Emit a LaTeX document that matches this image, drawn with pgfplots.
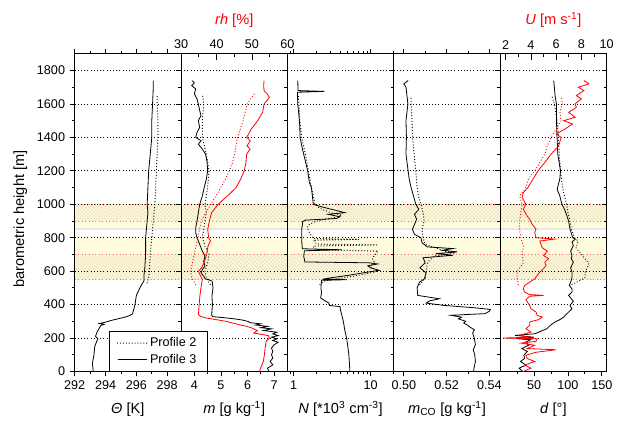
\documentclass[border=0pt]{standalone}
\usepackage{fontspec}
\setmainfont{Liberation Sans}
\usepackage{pgfplots}
\pgfplotsset{compat=1.18}
\usetikzlibrary{patterns}

\definecolor{bandyel}{RGB}{255,251,222}
\definecolor{bandgray}{RGB}{232,232,222}
\definecolor{hatchc}{RGB}{236,228,196}
\definecolor{bandred}{RGB}{255,110,110}

\newcommand{\tickfont}{\fontsize{9.5}{11}\selectfont}
\newcommand{\labfont}{\fontsize{11}{13}\selectfont}

\pgfplotsset{
  panel/.style={
    set layers,
    scale only axis,
    width=80.1pt, height=239.25pt,
    anchor=south west,
    ymin=0, ymax=1900,
    ytick={0,200,...,1800},
    minor ytick={100,300,...,1700},
    ymajorgrids,
    grid style={black, dotted, line width=0.5pt},
    tick align=outside,
    ytick pos=left,
    major tick length=3.75pt, minor tick length=2.25pt,
    tick style={black, line width=0.6pt},
    axis line style={line width=0.8pt},
    tick label style={font=\tickfont},
    label style={font=\labfont},
    xlabel style={at={(axis description cs:0.5,-0.132)}, anchor=base},
    /pgf/number format/assume math mode=true,
    /pgf/number format/1000 sep={},
  },
  toppanel/.style={
    scale only axis,
    width=80.1pt, height=239.25pt,
    anchor=south west,
    ymin=0, ymax=1900,
    axis x line*=top, axis y line=none,
    tick align=inside,
    major tick length=5pt, minor tick length=2.6pt,
    tick style={black, line width=0.6pt},
    axis line style={line width=0.8pt},
    tick label style={font=\tickfont},
    label style={font=\labfont, text=red},
    xlabel style={at={(axis description cs:0.5,1.091)}, anchor=base},
    /pgf/number format/assume math mode=true,
  },
  p3/.style={black, line width=0.6pt},
  p2/.style={black, line width=0.95pt, line cap=round, dash pattern=on 0pt off 2.2pt},
}

% shaded layers behind the profiles, x limits of the panel as arguments
\newcommand{\bands}[2]{%
  \addplot[draw=none, fill=bandyel, on layer=axis background, forget plot] coordinates {(#1,550) (#2,550) (#2,800) (#1,800)};
  \addplot[draw=none, fill=bandyel, on layer=axis background, forget plot] coordinates {(#1,860) (#2,860) (#2,1000) (#1,1000)};
  \addplot[draw=none, fill=bandgray, on layer=axis background, forget plot] coordinates {(#1,845) (#2,845) (#2,860) (#1,860)};
  \addplot[draw=none, pattern=north east lines, pattern color=hatchc, on layer=axis background, forget plot] coordinates {(#1,550) (#2,550) (#2,700) (#1,700)};
  \addplot[draw=none, pattern=north west lines, pattern color=hatchc, on layer=axis background, forget plot] coordinates {(#1,550) (#2,550) (#2,700) (#1,700)};
  \addplot[draw=none, pattern=north east lines, pattern color=hatchc, on layer=axis background, forget plot] coordinates {(#1,900) (#2,900) (#2,1000) (#1,1000)};
  \addplot[draw=none, pattern=north west lines, pattern color=hatchc, on layer=axis background, forget plot] coordinates {(#1,900) (#2,900) (#2,1000) (#1,1000)};
  \addplot[bandred, dotted, line width=0.6pt, on layer=axis background, forget plot] coordinates {(#1,550) (#2,550)};
  \addplot[bandred, dotted, line width=0.6pt, on layer=axis background, forget plot] coordinates {(#1,700) (#2,700)};
  \addplot[bandred, dotted, line width=0.6pt, on layer=axis background, forget plot] coordinates {(#1,900) (#2,900)};
  \addplot[bandred, dotted, line width=0.6pt, on layer=axis background, forget plot] coordinates {(#1,1000) (#2,1000)};
}

\begin{document}
\begin{tikzpicture}

% ---- panel 2: m (bottom) and rh (top)
\begin{axis}[panel, at={(136.35pt,35.25pt)},
    xmin=3.5, xmax=7.5, xtick pos=bottom,
    xtick={4,5,6,7}, minor xtick={4.5,5.5,6.5},
    yticklabels={},
    xlabel={\textit{m} [g kg\textsuperscript{-1}]}]
\bands{3.5}{7.5}
\addplot[p2] coordinates {(4.6,520) (4.45,560) (4.4,600) (4.5,650) (4.55,700) (4.4,750) (4.3,800) (4.35,850) (4.4,900) (4.45,950) (4.4,1000) (4.5,1100) (4.55,1200) (4.45,1300) (4.3,1400) (4.3,1500) (4.35,1600) (4.3,1660)};
\addplot[p3] coordinates {(6.8,0) (6.75,20) (6.95,40) (6.85,60) (6.95,80) (6.9,100) (6.95,120) (6.9,140) (7.0,160) (7.15,175) (6.95,185) (7.1,195) (6.9,205) (7.15,215) (6.95,225) (7.1,235) (6.6,245) (6.9,255) (6.5,262) (6.75,270) (6.3,278) (6.5,285) (6.1,292) (6.0,300) (5.8,308) (5.5,315) (5.1,322) (4.7,328) (4.65,335) (4.68,400) (4.66,450) (4.7,500) (4.67,540) (4.55,548) (4.4,555) (4.35,570) (4.25,590) (4.3,610) (4.4,630) (4.35,660) (4.4,690) (4.3,720) (4.2,760) (4.1,800) (4.05,830) (4.05,860) (4.1,900) (4.15,950) (4.2,1000) (4.3,1050) (4.37,1100) (4.45,1150) (4.5,1200) (4.48,1250) (4.42,1300) (4.3,1330) (4.15,1360) (4.25,1380) (4.05,1400) (4.1,1430) (4.2,1460) (4.15,1500) (4.25,1530) (4.2,1560) (4.15,1600) (4.1,1630) (4.0,1660) (4.05,1690) (3.9,1710) (4.0,1725) (3.92,1740)};
\end{axis}
\begin{axis}[toppanel, at={(136.35pt,35.25pt)},
    xmin=30, xmax=60, xtick={30,40,50,60}, minor xtick={35,45,55},
    xlabel={\textit{rh} [\%]}]
\addplot[p2, red] coordinates {(34.1,520) (33.0,560) (32.7,600) (33.2,650) (33.7,700) (34.2,750) (34.8,800) (35.2,850) (35.7,900) (37.0,950) (38.4,1000) (39.8,1050) (41.2,1100) (42.5,1150) (43.6,1200) (44.5,1250) (45.1,1300) (45.5,1350) (45.9,1400) (46.7,1450) (47.5,1500) (48.1,1550) (48.7,1600) (50.0,1640) (50.9,1670)};
\addplot[p3, red] coordinates {(52.1,0) (52.6,30) (53.2,60) (53.5,100) (53.7,140) (54.0,180) (54.9,200) (54.6,215) (50.5,230) (51.5,245) (50.0,260) (48.5,270) (46.4,280) (44.5,290) (42.7,300) (40,310) (37,320) (35.5,330) (34.9,340) (35.1,400) (35.3,450) (35.6,500) (36.0,550) (35.3,580) (34.9,600) (35.8,620) (36.5,650) (37.2,700) (37.6,750) (38.3,780) (37.8,800) (37.5,850) (38.0,900) (38.6,950) (40.5,1000) (42.0,1030) (43.6,1060) (45.5,1100) (46.8,1150) (47.8,1200) (48.3,1250) (48.5,1300) (49.5,1330) (48.6,1350) (49.5,1380) (48.5,1400) (49.3,1430) (49.8,1450) (51.6,1500) (53.0,1550) (53.4,1600) (54.2,1620) (54.9,1640) (54.3,1660) (53.4,1680) (53.3,1710) (53.4,1740)};
\end{axis}

% ---- panel 3: N (log)
\begin{axis}[panel, at={(216.45pt,35.25pt)},
    xmode=log, xmin=0.83, xmax=20, xtick pos=both,
    xtick={1,10}, xticklabels={1,10},
    minor xtick={0.9,2,3,4,5,6,7,8,9,20},
    yticklabels={},
    xlabel={\textit{N} [*10\textsuperscript{3} cm\textsuperscript{-3}]}]
\bands{0.83}{20}
\addplot[p2] coordinates {(2.2,520) (2.5,540) (3.5,555) (6,570) (9,585) (12.3,600) (11,615) (9.5,630) (11.5,650) (10.5,670) (11,690) (12.5,720) (1.9,728) (1.8,750) (12,757) (2.0,762) (1.8,785) (7.0,790) (1.8,795) (1.6,830) (1.5,860) (1.6,880) (2.0,900) (3.4,920) (4.2,935) (3.0,950) (2.2,975) (1.9,1000) (1.7,1100) (1.55,1200) (1.42,1300) (1.27,1400) (1.2,1500) (1.17,1600) (1.15,1650)};
\addplot[p3] coordinates {(5.37,0) (5.3,50) (5.21,100) (5.05,150) (4.87,200) (4.6,250) (4.42,300) (4.2,340) (4.05,370) (4.0,388) (2.9,395) (2.86,410) (2.5,425) (2.24,440) (2.3,470) (2.26,500) (2.3,545) (4.9,549) (2.4,552) (3.0,560) (5.1,575) (8.0,590) (12.9,605) (10,620) (9.2,632) (12.3,643) (9.5,650) (1.4,655) (1.35,690) (1.38,722) (4.2,728) (1.3,734) (1.28,760) (1.27,800) (1.27,850) (1.3,880) (1.3,895) (1.4,905) (3.6,915) (4.0,925) (2.8,940) (4.6,950) (3.1,970) (2.3,985) (1.8,1000) (1.75,1050) (1.7,1100) (1.6,1130) (1.52,1200) (1.4,1270) (1.3,1330) (1.21,1400) (1.2,1470) (1.17,1530) (1.13,1600) (1.12,1670) (2.5,1675) (1.14,1680) (1.13,1740)};
\end{axis}

% ---- panel 4: m_CO
\begin{axis}[panel, at={(296.55pt,35.25pt)},
    xmin=0.4953, xmax=0.5451, xtick pos=both,
    xtick={0.50,0.52,0.54}, xticklabels={0.50,0.52,0.54},
    minor xtick={0.51,0.53},
    yticklabels={},
    xlabel={\textit{m}\textsubscript{CO} [g kg\textsuperscript{-1}]}]
\bands{0.4953}{0.5451}
\addplot[p2] coordinates {(0.5075,520) (0.5100,560) (0.5105,600) (0.5110,650) (0.5140,690) (0.5200,700) (0.5240,710) (0.5190,720) (0.5150,740) (0.5100,760) (0.5090,800) (0.5085,850) (0.5095,900) (0.5090,950) (0.5080,1000) (0.5068,1050) (0.5062,1100) (0.5056,1200) (0.5048,1300) (0.5041,1400) (0.5038,1500) (0.5034,1600) (0.5034,1650)};
\addplot[p3] coordinates {(0.5326,0) (0.5330,30) (0.5335,60) (0.5332,100) (0.5325,130) (0.5335,160) (0.5330,200) (0.5322,230) (0.5330,250) (0.5310,265) (0.5300,276) (0.5280,290) (0.5290,300) (0.5255,315) (0.5270,325) (0.5220,336) (0.5380,346) (0.5400,360) (0.5405,371) (0.5340,380) (0.5190,395) (0.5104,409) (0.5120,422) (0.5166,435) (0.5065,455) (0.5062,500) (0.5073,534) (0.5096,554) (0.5104,590) (0.5075,620) (0.5100,650) (0.5090,680) (0.5230,695) (0.5150,705) (0.5250,715) (0.5180,725) (0.5230,735) (0.5110,745) (0.5085,770) (0.5080,800) (0.5050,820) (0.5040,850) (0.5050,880) (0.5060,910) (0.5050,940) (0.5070,970) (0.5056,1000) (0.5045,1050) (0.5034,1100) (0.5025,1150) (0.5020,1200) (0.5010,1300) (0.5012,1400) (0.5010,1500) (0.5019,1600) (0.5010,1700) (0.5000,1720) (0.5020,1740)};
\end{axis}

% ---- panel 5: d (bottom) and U (top)
\begin{axis}[panel, at={(376.65pt,35.25pt)},
    xmin=0, xmax=157, xtick pos=bottom,
    xtick={50,100,150}, minor xtick={25,75,125},
    yticklabels={},
    xlabel={\textit{d} [°]}]
\bands{0}{157}
\addplot[p2] coordinates {(106,520) (125,560) (126,600) (131,640) (128,660) (120,700) (112,740) (115,780) (110,800) (105,850) (103,900) (100,950) (98,1000) (92,1100) (89,1200) (87,1300) (86,1400) (84,1500) (80,1600) (76,1650)};
\addplot[p3] coordinates {(33,0) (28,20) (38,38) (30,60) (36,78) (35,97) (40,120) (32,137) (42,157) (38,176) (45,190) (25,196) (50,205) (22,216) (52,226) (57,236) (69,256) (74,276) (81,296) (88,310) (94,326) (97,340) (101,356) (106,375) (103,395) (108,420) (101,455) (106,475) (106,494) (102,515) (104,534) (106,560) (106,594) (104,620) (108,653) (105,675) (106,693) (104,720) (108,753) (106,775) (111,792) (107,800) (103,852) (101,900) (98.5,931) (95,970) (91,1001) (88,1050) (84,1090) (88,1150) (89,1200) (85,1300) (84,1400) (83,1500) (83,1600) (81,1650) (80,1700) (79,1740)};
\end{axis}
\begin{axis}[toppanel, at={(376.65pt,35.25pt)},
    xmin=1.56, xmax=10, xtick={2,4,6,8,10}, minor xtick={3,5,7,9},
    xlabel={\textit{U} [m s\textsuperscript{-1}]}]
\addplot[p2, red] coordinates {(3.0,520) (2.9,560) (2.9,600) (3.4,650) (3.3,700) (3.4,750) (3.2,800) (3.1,850) (3.1,900) (3.2,950) (3.3,1000) (3.1,1050) (3.6,1100) (3.8,1150) (4.3,1200) (4.7,1250) (5.1,1300) (5.3,1350) (5.6,1400) (6.0,1450) (6.4,1500) (6.3,1550) (6.5,1600) (6.4,1650)};
\addplot[p3, red] coordinates {(3.4,0) (4.0,20) (3.5,38) (4.3,60) (3.7,78) (3.6,97) (4.4,115) (6.0,130) (3.7,137) (4.3,157) (3.2,170) (4.4,180) (4.5,196) (1.8,200) (3.9,205) (3.1,216) (4.0,236) (3.6,256) (3.9,276) (3.9,296) (4.6,310) (4.9,326) (4.5,335) (4.4,356) (4.0,375) (3.9,395) (3.6,430) (3.9,450) (5.0,455) (3.9,460) (3.5,475) (3.4,494) (3.5,515) (3.9,534) (4.3,554) (4.5,575) (4.7,594) (5.0,615) (5.2,635) (5.1,653) (5.4,675) (5.0,693) (5.3,720) (4.9,740) (4.8,760) (4.7,780) (5.9,792) (4.4,800) (4.3,830) (4.4,852) (4.1,880) (3.9,910) (3.7,930) (3.4,970) (3.6,1001) (3.3,1040) (3.4,1070) (3.76,1100) (4.16,1150) (4.56,1200) (5.1,1250) (5.6,1300) (6.2,1350) (6.4,1400) (6.0,1420) (6.7,1450) (7.3,1480) (6.6,1500) (7.5,1520) (7.0,1550) (7.6,1580) (7.5,1600) (8.0,1630) (7.6,1650) (8.2,1680) (7.76,1700) (8.6,1720) (8.2,1740)};
\end{axis}
% inward ticks on the right edge of panel 5
\begin{axis}[scale only axis, width=80.1pt, height=239.25pt, anchor=south west,
    at={(376.65pt,35.25pt)}, xmin=0, xmax=1, ymin=0, ymax=1900,
    axis x line=none, axis y line*=right, tick align=inside,
    ytick={0,200,...,1800}, minor ytick={100,300,...,1700}, yticklabels={},
    major tick length=3.75pt, minor tick length=2.25pt,
    tick style={black, line width=0.6pt}, axis line style={line width=0.8pt}]
\end{axis}

% ---- panel 1: Theta, with y labels and legend (drawn last, legend on top)
\begin{axis}[panel, at={(56.25pt,35.25pt)},
    xmin=292, xmax=298.9, xtick pos=both,
    xtick={292,294,296,298}, minor xtick={293,295,297},
    ylabel={barometric height [m]},
    ylabel style={at={(axis description cs:-0.51,0.48)}, anchor=center},
    xlabel={\textit{Θ} [K]},
    legend style={at={(0.318,0)}, anchor=south west, draw=black, line width=0.6pt,
      fill=white, font=\tickfont, inner xsep=6pt, inner ysep=2.5pt, row sep=0pt,
      cells={anchor=west}},
    legend image code/.code={\draw[#1] (0pt,0pt) -- (22pt,0pt);}]
\bands{292}{298.9}
\addplot[p2] coordinates {(296.7,530) (296.8,560) (296.85,600) (296.9,700) (297.0,800) (297.1,900) (297.2,1000) (297.25,1100) (297.3,1200) (297.35,1300) (297.4,1400) (297.4,1500) (297.35,1600) (297.35,1650)};
\addlegendentry{Profile 2}
\addplot[p3] coordinates {(293.2,0) (293.15,50) (293.25,100) (293.3,150) (293.5,197) (293.35,210) (293.45,236) (293.6,260) (293.7,275) (293.9,282) (293.6,287) (294.0,295) (294.4,306) (295.3,326) (295.6,336) (295.75,345) (295.9,395) (296.0,455) (296.2,495) (296.5,544) (296.5,580) (296.55,620) (296.6,700) (296.6,800) (296.65,850) (296.7,900) (296.75,950) (296.7,1000) (296.75,1100) (296.8,1200) (296.9,1300) (297.0,1400) (297.0,1500) (297.05,1600) (297.1,1700) (297.1,1740)};
\addlegendentry{Profile 3}
\end{axis}

\path (0,0) rectangle (463.5pt,315pt);
\end{tikzpicture}
\end{document}
